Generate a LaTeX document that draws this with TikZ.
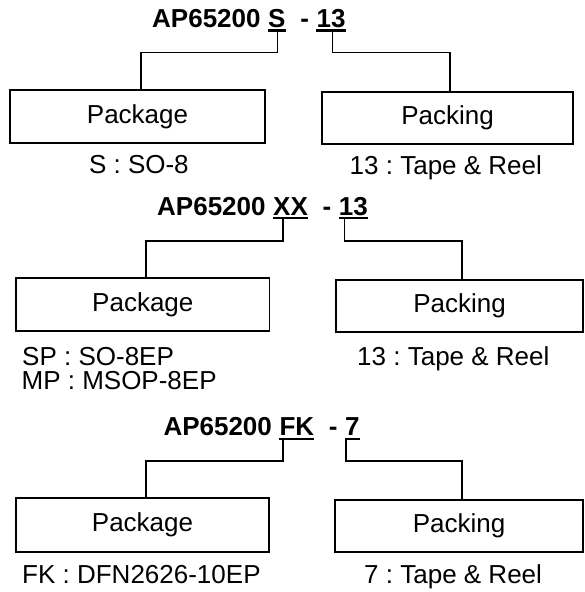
\documentclass[tikz,border=0pt]{standalone}
\usepackage{fontspec}
\setmainfont{Liberation Sans}
\usetikzlibrary{calc}
\frenchspacing
\tikzset{
  ttl/.style={font=\fontsize{26}{31}\selectfont\bfseries, inner sep=0pt, anchor=base west},
  lbl/.style={font=\fontsize{26}{31}\selectfont, inner sep=0pt, anchor=base west},
  box/.style={draw, line width=1.6pt, font=\fontsize{26}{31}\selectfont, inner sep=0pt},
  conn/.style={line width=1.6pt},
  uline/.style={line width=2.4pt}
}
\begin{document}
\begin{tikzpicture}[x=1pt,y=-1pt]
\useasboundingbox (0,0) rectangle (584,592);

% ---------- section 1 ----------
\node[ttl] (a1) at (152,27.3) {AP65200};
\node[ttl] (c1) at ($(a1.base east)+(7.2,0)$) {S};
\node[ttl] (d1) at ($(c1.base east)+(14.4,0)$) {-};
\node[ttl] (p1) at ($(d1.base east)+(7.2,0)$) {13};
\draw[uline] ([yshift=-3pt]c1.base west) -- ([yshift=-3pt]c1.base east);
\draw[uline] ([yshift=-3pt]p1.base west) -- ([yshift=-3pt]p1.base east);
\node[box, minimum width=255pt, minimum height=53pt] (k1) at (137.5,116.5) {Package};
\node[box, minimum width=251pt, minimum height=52pt] (g1) at (447.5,118) {Packing};
\draw[conn] ([xshift=0.5pt,yshift=-3pt]c1.base) -- ($([xshift=0.5pt]c1.base)+(0,25)$) -| ([xshift=3.5pt]k1.north);
\draw[conn] ([xshift=1.6pt,yshift=-3pt]p1.base) -- ($([xshift=1.6pt]p1.base)+(0,25)$) -| ([xshift=2.5pt]g1.north);
\node[lbl] (s1) at (88.8,173.3) {S : SO-8};
\node[lbl] (r1) at (349.5,174) {13 : Tape \& Reel};

% ---------- section 2 ----------
\node[ttl] (a2) at (157,215) {AP65200};
\node[ttl] (c2) at ($(a2.base east)+(7.2,0)$) {XX};
\node[ttl] (d2) at ($(c2.base east)+(14.4,0)$) {-};
\node[ttl] (p2) at ($(d2.base east)+(7.2,0)$) {13};
\draw[uline] ([yshift=-3pt]c2.base west) -- ([yshift=-3pt]c2.base east);
\draw[uline] ([yshift=-3pt]p2.base west) -- ([yshift=-3pt]p2.base east);
\node[box, minimum width=253.6pt, minimum height=53pt] (k2) at (142.8,304.5) {Package};
\node[box, minimum width=247pt, minimum height=52pt] (g2) at (459.5,306) {Packing};
\draw[conn] ([xshift=9.7pt,yshift=-3pt]c2.base west) -- ($([xshift=9.7pt]c2.base west)+(0,26)$) -| ([xshift=3.2pt]k2.north);
\draw[conn] ([xshift=5.6pt,yshift=-3pt]p2.base west) -- ($([xshift=5.6pt]p2.base west)+(0,26)$) -| ([xshift=2.3pt]g2.north);
\node[lbl] (s2) at (22,365) {SP : SO-8EP};
\node[lbl] (m2) at (21.4,389) {MP : MSOP-8EP};
\node[lbl] (r2) at (357,365) {13 : Tape \& Reel};

% ---------- section 3 ----------
\node[ttl] (a3) at (163.3,435.7) {AP65200};
\node[ttl] (c3) at ($(a3.base east)+(7.2,0)$) {FK};
\node[ttl] (d3) at ($(c3.base east)+(14.4,0)$) {-};
\node[ttl] (p3) at ($(d3.base east)+(7.2,0)$) {7};
\draw[uline] ([yshift=-3pt]c3.base west) -- ([yshift=-3pt]c3.base east);
\draw[uline] ([yshift=-3pt]p3.base west) -- ([yshift=-3pt]p3.base east);
\node[box, minimum width=253pt, minimum height=54pt] (k3) at (142.5,525) {Package};
\node[box, minimum width=248pt, minimum height=52pt] (g3) at (459,526) {Packing};
\draw[conn] ([xshift=3.6pt,yshift=-3pt]c3.base west) -- ($([xshift=3.6pt]c3.base west)+(0,25.3)$) -| ([xshift=3.5pt]k3.north);
\draw[conn] ([xshift=0.8pt,yshift=-3pt]p3.base west) -- ($([xshift=0.8pt]p3.base west)+(0,25.3)$) -| ([xshift=2.8pt]g3.north);
\node[lbl] (s3) at (22,583.3) {FK : DFN2626-10EP};
\node[lbl] (r3) at (364,583.3) {7 : Tape \& Reel};
\end{tikzpicture}
\end{document}
